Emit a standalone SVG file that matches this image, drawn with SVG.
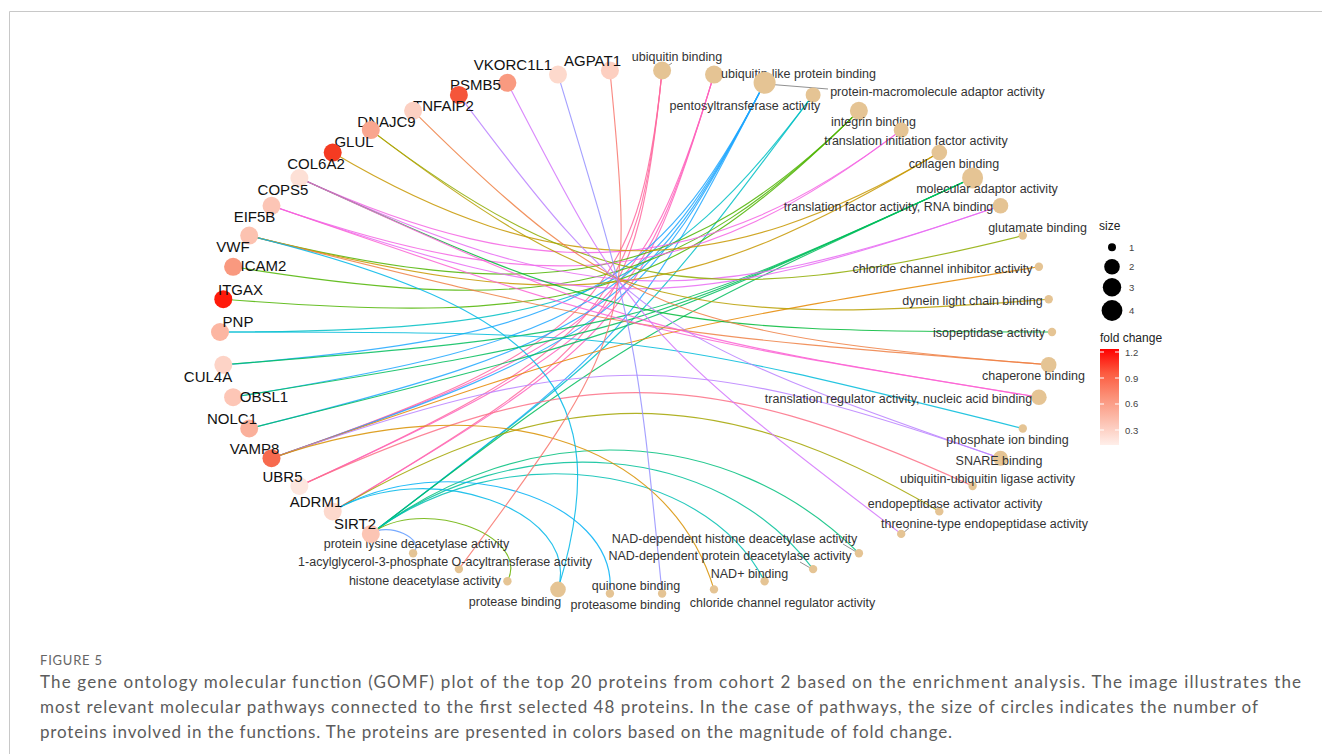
<svg xmlns="http://www.w3.org/2000/svg" width="1322" height="754" viewBox="0 0 1322 754">
<defs>
<style>
.e{fill:none;stroke-width:1.15;stroke-opacity:.85}
.t{fill:#E5C494}
.gl{font-family:"Liberation Sans",Arial,sans-serif;font-size:15px;fill:#111;text-anchor:middle}
.tl{font-family:"Liberation Sans",Arial,sans-serif;font-size:12.5px;fill:#333;text-anchor:middle}
.lg{font-family:"Liberation Sans",Arial,sans-serif;font-size:12px;fill:#222}
.lt{font-family:"Liberation Sans",Arial,sans-serif;font-size:9.5px;fill:#444}
.cap{font-family:Lato,"Open Sans",sans-serif;font-size:17px;fill:#5c5c5c}
.ld{stroke:#444;stroke-width:.6}
</style>
<linearGradient id="fc" x1="0" y1="0" x2="0" y2="1">
<stop offset="0" stop-color="#FF0000"/>
<stop offset="0.25" stop-color="#FC5A3F"/>
<stop offset="0.5" stop-color="#FB9178"/>
<stop offset="0.75" stop-color="#FCC0B0"/>
<stop offset="1" stop-color="#FFEFEA"/>
</linearGradient>
</defs>
<rect width="1322" height="754" fill="#fff"/>
<path d="M9.5,754 V11.5 H1322" fill="none" stroke="#c8c8c8" stroke-width="1"/>

<g id="edges">
<path class="e" stroke="#FF689F" d="M271.5,458.2 C590.9,347.6 639.2,299.7 662.1,70.5"/>
<path class="e" stroke="#FF689F" d="M299.4,486.0 C604.0,346.7 638.5,307.1 662.1,70.5"/>
<path class="e" stroke="#FF689F" d="M332.7,511.4 C614.7,344.6 637.8,313.6 662.1,70.5"/>
<path class="e" stroke="#FF62BC" d="M271.5,458.2 C601.3,344.0 643.4,307.5 714.0,74.6"/>
<path class="e" stroke="#FF62BC" d="M299.4,486.0 C612.4,342.8 641.5,313.9 714.0,74.6"/>
<path class="e" stroke="#FF62BC" d="M332.7,511.4 C621.2,340.8 639.8,319.4 714.0,74.6"/>
<path class="e" stroke="#1FA7FF" d="M223.3,364.8 C571.8,337.1 656.0,293.2 764.6,82.8"/>
<path class="e" stroke="#1FA7FF" d="M233.1,397.2 C586.2,340.1 651.9,301.2 764.6,82.8"/>
<path class="e" stroke="#1FA7FF" d="M249.2,428.5 C599.2,341.2 648.2,308.3 764.6,82.8"/>
<path class="e" stroke="#1FA7FF" d="M271.5,458.2 C610.4,340.9 645.0,314.5 764.6,82.8"/>
<path class="e" stroke="#1FA7FF" d="M370.8,533.9 C631.3,335.6 638.3,327.6 764.6,82.8"/>
<path class="e" stroke="#00BFC4" d="M220,332 C571.2,332 663.6,295.1 813.1,94.9"/>
<path class="e" stroke="#00BFC4" d="M370.8,533.9 C633.9,333.6 637.4,330.1 813.1,94.9"/>
<path class="e" stroke="#4DB400" d="M249.2,235.6 C547.2,309.9 687.2,281.2 858.9,110.8"/>
<path class="e" stroke="#4DB400" d="M233.1,266.8 C559.0,319.6 678.6,289.8 858.9,110.8"/>
<path class="e" stroke="#4DB400" d="M223.3,299.2 C571.8,326.9 670.7,297.6 858.9,110.8"/>
<path class="e" stroke="#F564E3" d="M299.4,178.0 C544.8,290.3 707.9,277.3 901.2,130.1"/>
<path class="e" stroke="#F564E3" d="M271.5,205.8 C552.3,303.0 696.9,285.7 901.2,130.1"/>
<path class="e" stroke="#C79800" d="M332.7,152.6 C553.8,283.4 718.2,283.4 939.3,152.6"/>
<path class="e" stroke="#C79800" d="M249.2,235.6 C575.8,317.0 683.2,304.1 939.3,152.6"/>
<path class="e" stroke="#00BD5C" d="M223.3,364.8 C623.0,333.0 646.6,327.2 972.6,178.0"/>
<path class="e" stroke="#00BD5C" d="M233.1,397.2 C628.9,333.2 642.0,329.3 972.6,178.0"/>
<path class="e" stroke="#00BD5C" d="M249.2,428.5 C633.0,332.8 638.7,330.8 972.6,178.0"/>
<path class="e" stroke="#00BD5C" d="M370.8,533.9 C633.9,333.6 638.7,330.8 972.6,178.0"/>
<path class="e" stroke="#E76BF3" d="M299.4,178.0 C583.6,308.0 692.7,312.4 1000.5,205.8"/>
<path class="e" stroke="#E76BF3" d="M271.5,205.8 C590.9,316.4 681.1,316.4 1000.5,205.8"/>
<path class="e" stroke="#8EAB00" d="M370.8,130.1 C585.4,293.4 709.9,313.6 1022.8,235.6"/>
<path class="e" stroke="#E58700" d="M271.5,458.2 C633.1,333.0 639.2,331.5 1038.9,266.8"/>
<path class="e" stroke="#B79F00" d="M370.8,130.1 C603.2,307.0 687.1,327.9 1048.7,299.2"/>
<path class="e" stroke="#00BA38" d="M299.4,178.0 C619.5,324.5 656.4,332.0 1052,332"/>
<path class="e" stroke="#EE8044" d="M413.1,110.8 C614.8,311.0 675.3,335.1 1048.7,364.8"/>
<path class="e" stroke="#EE8044" d="M249.2,235.6 C633.0,331.2 639.3,332.3 1048.7,364.8"/>
<path class="e" stroke="#FC61D3" d="M299.4,178.0 C630.0,329.3 643.1,333.2 1038.9,397.2"/>
<path class="e" stroke="#FC61D3" d="M271.5,205.8 C633.1,331.0 639.2,332.5 1038.9,397.2"/>
<path class="e" stroke="#00BBDA" d="M220,332 C628.6,332 642.9,333.7 1022.8,428.5"/>
<path class="e" stroke="#BA81FF" d="M458.9,94.9 C627.3,320.4 653.8,338.2 1000.5,458.2"/>
<path class="e" stroke="#BA81FF" d="M271.5,458.2 C590.9,347.6 681.1,347.6 1000.5,458.2"/>
<path class="e" stroke="#FC7086" d="M299.4,486.0 C571.7,361.4 700.3,361.4 972.6,486.0"/>
<path class="e" stroke="#A3A500" d="M332.7,511.4 C553.8,380.6 718.2,380.6 939.3,511.4"/>
<path class="e" stroke="#D375FC" d="M507.4,82.8 C633.7,327.6 640.7,335.6 901.2,533.9"/>
<path class="e" stroke="#00BF7D" d="M370.8,533.9 C526.7,415.2 727.9,423.2 858.9,553.2"/>
<path class="e" stroke="#00C098" d="M370.8,533.9 C512.9,425.7 718.2,442.0 813.1,569.1"/>
<path class="e" stroke="#00C0B1" d="M370.8,533.9 C498.6,436.6 702.6,461.1 764.6,581.2"/>
<path class="e" stroke="#D89000" d="M271.5,458.2 C485.7,384.0 668.1,438.1 714.0,589.4"/>
<path class="e" stroke="#9590FF" d="M558.0,74.6 C635.8,331.5 636.1,332.5 662.1,593.5"/>
<path class="e" stroke="#00B0F6" d="M332.7,511.4 C444.4,445.3 619.5,497.2 609.9,593.5"/>
<path class="e" stroke="#00B7E8" d="M249.2,235.6 C547.2,309.9 618.1,391.1 558.0,589.4"/>
<path class="e" stroke="#00B7E8" d="M332.7,511.4 C426.5,455.9 582.1,509.8 558.0,589.4"/>
<path class="e" stroke="#6AB100" d="M370.8,533.9 C420.5,496.0 531.5,534.5 507.4,581.2"/>
<path class="e" stroke="#F8766D" d="M609.9,70.5 C635.2,323.8 630.4,339.4 458.9,569.1"/>
<path class="e" stroke="#619CFF" d="M370.8,533.9 C387.5,521.2 427.1,539.3 413.1,553.2"/>
</g>

<g id="leaders">
<line class="ld" x1="662" y1="70" x2="672" y2="63"/>
<line class="ld" x1="766" y1="84" x2="828" y2="89"/>
<line class="ld" x1="843" y1="544" x2="858" y2="553"/>
<line class="ld" x1="800" y1="562" x2="812" y2="569"/>
<line class="ld" x1="902" y1="534" x2="909" y2="528"/>
</g>

<g id="terms">
<g id="t-ubiquitin-binding"><circle class="t" cx="662.1" cy="70.5" r="9"/><text class="tl" x="677" y="60.5">ubiquitin binding</text></g>
<g id="t-ubiquitin-like"><circle class="t" cx="714.0" cy="74.6" r="9"/><text class="tl" x="798.5" y="77.5">ubiquitin-like protein binding</text></g>
<g id="t-protein-macromolecule"><circle class="t" cx="764.6" cy="82.8" r="11"/><text class="tl" x="937.5" y="95.5">protein-macromolecule adaptor activity</text></g>
<g id="t-pentosyltransferase"><circle class="t" cx="813.1" cy="94.9" r="7.5"/><text class="tl" x="745" y="109.5">pentosyltransferase activity</text></g>
<g id="t-integrin"><circle class="t" cx="858.9" cy="110.8" r="9"/><text class="tl" x="873.5" y="125.5">integrin binding</text></g>
<g id="t-translation-initiation"><circle class="t" cx="901.2" cy="130.1" r="7.5"/><text class="tl" x="916" y="144.5">translation initiation factor activity</text></g>
<g id="t-collagen"><circle class="t" cx="939.3" cy="152.6" r="7.8"/><text class="tl" x="954" y="167.5">collagen binding</text></g>
<g id="t-molecular-adaptor"><circle class="t" cx="972.6" cy="178.0" r="10.5"/><text class="tl" x="987" y="192.5">molecular adaptor activity</text></g>
<g id="t-translation-factor"><circle class="t" cx="1000.5" cy="205.8" r="7.8"/><text class="tl" x="888.5" y="210.5">translation factor activity, RNA binding</text></g>
<g id="t-glutamate"><circle class="t" cx="1022.8" cy="235.6" r="4.2"/><text class="tl" x="1037.5" y="231.5">glutamate binding</text></g>
<g id="t-chloride-inhibitor"><circle class="t" cx="1038.9" cy="266.8" r="4.2"/><text class="tl" x="942.5" y="272.5">chloride channel inhibitor activity</text></g>
<g id="t-dynein"><circle class="t" cx="1048.7" cy="299.2" r="4.2"/><text class="tl" x="972.5" y="304.5">dynein light chain binding</text></g>
<g id="t-isopeptidase"><circle class="t" cx="1052" cy="332" r="4.2"/><text class="tl" x="989" y="336.5">isopeptidase activity</text></g>
<g id="t-chaperone"><circle class="t" cx="1048.7" cy="364.8" r="7.8"/><text class="tl" x="1033.5" y="379.5">chaperone binding</text></g>
<g id="t-translation-regulator"><circle class="t" cx="1038.9" cy="397.2" r="7.8"/><text class="tl" x="898.5" y="402.5">translation regulator activity, nucleic acid binding</text></g>
<g id="t-phosphate"><circle class="t" cx="1022.8" cy="428.5" r="4.2"/><text class="tl" x="1007.5" y="443.5">phosphate ion binding</text></g>
<g id="t-snare"><circle class="t" cx="1000.5" cy="458.2" r="7.5"/><text class="tl" x="999" y="464.5">SNARE binding</text></g>
<g id="t-ub-ub-ligase"><circle class="t" cx="972.6" cy="486.0" r="4.2"/><text class="tl" x="987.5" y="482.5">ubiquitin-ubiquitin ligase activity</text></g>
<g id="t-endopeptidase-activator"><circle class="t" cx="939.3" cy="511.4" r="4.2"/><text class="tl" x="955" y="507.5">endopeptidase activator activity</text></g>
<g id="t-threonine"><circle class="t" cx="901.2" cy="533.9" r="4.2"/><text class="tl" x="984.5" y="527.5">threonine-type endopeptidase activity</text></g>
<g id="t-nad-histone"><circle class="t" cx="858.9" cy="553.2" r="4.2"/><text class="tl" x="734.5" y="542.5">NAD-dependent histone deacetylase activity</text></g>
<g id="t-nad-protein"><circle class="t" cx="813.1" cy="569.1" r="4.2"/><text class="tl" x="730" y="559.5">NAD-dependent protein deacetylase activity</text></g>
<g id="t-nad-binding"><circle class="t" cx="764.6" cy="581.2" r="4.2"/><text class="tl" x="749.5" y="577.5">NAD+ binding</text></g>
<g id="t-chloride-regulator"><circle class="t" cx="714.0" cy="589.4" r="4.2"/><text class="tl" x="782.5" y="606.5">chloride channel regulator activity</text></g>
<g id="t-quinone"><circle class="t" cx="662.1" cy="593.5" r="4.2"/><text class="tl" x="636" y="589.5">quinone binding</text></g>
<g id="t-proteasome"><circle class="t" cx="609.9" cy="593.5" r="4.2"/><text class="tl" x="625.5" y="608.5">proteasome binding</text></g>
<g id="t-protease"><circle class="t" cx="558.0" cy="589.4" r="7.8"/><text class="tl" x="515" y="605.5">protease binding</text></g>
<g id="t-histone"><circle class="t" cx="507.4" cy="581.2" r="4.2"/><text class="tl" x="425" y="584.5">histone deacetylase activity</text></g>
<g id="t-acylglycerol"><circle class="t" cx="458.9" cy="569.1" r="4.2"/><text class="tl" x="445" y="565.5">1-acylglycerol-3-phosphate O-acyltransferase activity</text></g>
<g id="t-protein-lysine"><circle class="t" cx="413.1" cy="553.2" r="4.2"/><text class="tl" x="416.5" y="547.5">protein lysine deacetylase activity</text></g>
</g>

<g id="genes">
<g id="g-AGPAT1"><circle cx="609.9" cy="70.5" r="9" fill="#FDCFC0"/><text class="gl" x="592.5" y="65.5">AGPAT1</text></g>
<g id="g-VKORC1L1"><circle cx="558.0" cy="74.6" r="9" fill="#FDD9CC"/><text class="gl" x="513" y="69.5">VKORC1L1</text></g>
<g id="g-PSMB5"><circle cx="507.4" cy="82.8" r="9" fill="#F99A80"/><text class="gl" x="475.5" y="89.5">PSMB5</text></g>
<g id="g-TNFAIP2"><circle cx="458.9" cy="94.9" r="9" fill="#F5553A"/><text class="gl" x="443.5" y="110.5">TNFAIP2</text></g>
<g id="g-DNAJC9"><circle cx="413.1" cy="110.8" r="9" fill="#FCD0C2"/><text class="gl" x="386.5" y="127">DNAJC9</text></g>
<g id="g-GLUL"><circle cx="370.8" cy="130.1" r="9" fill="#F9A68F"/><text class="gl" x="354" y="146.5">GLUL</text></g>
<g id="g-COL6A2"><circle cx="332.7" cy="152.6" r="9" fill="#F53B22"/><text class="gl" x="316" y="168.5">COL6A2</text></g>
<g id="g-COPS5"><circle cx="299.4" cy="178.0" r="9" fill="#FDE0D6"/><text class="gl" x="283" y="194.5">COPS5</text></g>
<g id="g-EIF5B"><circle cx="271.5" cy="205.8" r="9" fill="#FCC5B5"/><text class="gl" x="254.5" y="221.5">EIF5B</text></g>
<g id="g-VWF"><circle cx="249.2" cy="235.6" r="9" fill="#FCC2B0"/><text class="gl" x="233" y="251.5">VWF</text></g>
<g id="g-ICAM2"><circle cx="233.1" cy="266.8" r="9" fill="#F9997F"/><text class="gl" x="263.5" y="271">ICAM2</text></g>
<g id="g-ITGAX"><circle cx="223.3" cy="299.2" r="9" fill="#FF1A0A"/><text class="gl" x="240.5" y="294.5">ITGAX</text></g>
<g id="g-PNP"><circle cx="220" cy="332" r="9" fill="#FCB6A2"/><text class="gl" x="238" y="326.5">PNP</text></g>
<g id="g-CUL4A"><circle cx="223.3" cy="364.8" r="9" fill="#FDD3C6"/><text class="gl" x="208" y="381.5">CUL4A</text></g>
<g id="g-OBSL1"><circle cx="233.1" cy="397.2" r="9" fill="#FDC6B6"/><text class="gl" x="264" y="401.5">OBSL1</text></g>
<g id="g-NOLC1"><circle cx="249.2" cy="428.5" r="9" fill="#FAB09B"/><text class="gl" x="232" y="423.5">NOLC1</text></g>
<g id="g-VAMP8"><circle cx="271.5" cy="458.2" r="9" fill="#F76A4E"/><text class="gl" x="254.5" y="453.5">VAMP8</text></g>
<g id="g-UBR5"><circle cx="299.4" cy="486.0" r="9" fill="#FDE6DE"/><text class="gl" x="282.5" y="481.5">UBR5</text></g>
<g id="g-ADRM1"><circle cx="332.7" cy="511.4" r="9" fill="#FDD9CD"/><text class="gl" x="316" y="506.5">ADRM1</text></g>
<g id="g-SIRT2"><circle cx="370.8" cy="533.9" r="9" fill="#FCC5B4"/><text class="gl" x="355" y="529">SIRT2</text></g>
</g>

<g id="legend">
<text class="lg" x="1099" y="230">size</text>
<circle cx="1112" cy="247.3" r="4"/>
<circle cx="1112" cy="266.7" r="7.8"/>
<circle cx="1112" cy="287.3" r="9.2"/>
<circle cx="1112" cy="310.5" r="10.4"/>
<text class="lt" x="1129" y="250.5">1</text>
<text class="lt" x="1129" y="270">2</text>
<text class="lt" x="1129" y="290.5">3</text>
<text class="lt" x="1129" y="314">4</text>
<text class="lg" x="1100" y="341.5">fold change</text>
<rect x="1100" y="349" width="19" height="96" fill="url(#fc)"/>
<g stroke="#fff" stroke-width="1">
<line x1="1100" y1="352" x2="1104" y2="352"/><line x1="1115" y1="352" x2="1119" y2="352"/>
<line x1="1100" y1="378" x2="1104" y2="378"/><line x1="1115" y1="378" x2="1119" y2="378"/>
<line x1="1100" y1="404" x2="1104" y2="404"/><line x1="1115" y1="404" x2="1119" y2="404"/>
<line x1="1100" y1="430" x2="1104" y2="430"/><line x1="1115" y1="430" x2="1119" y2="430"/>
</g>
<text class="lt" x="1125" y="355.5">1.2</text>
<text class="lt" x="1125" y="381.5">0.9</text>
<text class="lt" x="1125" y="407">0.6</text>
<text class="lt" x="1125" y="433.5">0.3</text>
</g>

<g id="caption">
<text x="40" y="665" font-family="Lato,'Open Sans',sans-serif" font-size="13" fill="#666" textLength="62">FIGURE 5</text>
<text class="cap" x="40" y="688" textLength="1261">The gene ontology molecular function (GOMF) plot of the top 20 proteins from cohort 2 based on the enrichment analysis. The image illustrates the</text>
<text class="cap" x="40" y="713" textLength="1218">most relevant molecular pathways connected to the first selected 48 proteins. In the case of pathways, the size of circles indicates the number of</text>
<text class="cap" x="40" y="738" textLength="912">proteins involved in the functions. The proteins are presented in colors based on the magnitude of fold change.</text>
</g>
</svg>
